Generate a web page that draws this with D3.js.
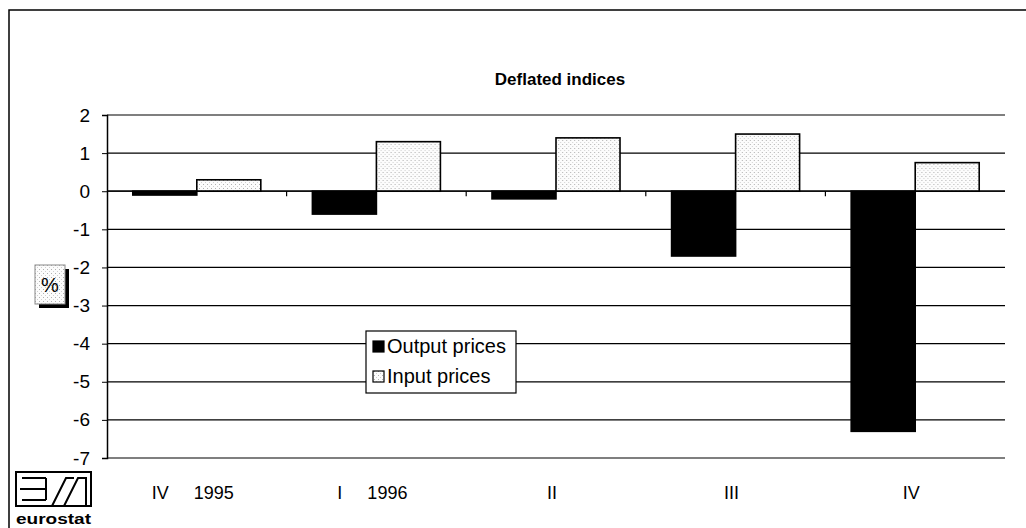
<!DOCTYPE html>
<html>
<head>
<meta charset="utf-8">
<script src="https://cdn.jsdelivr.net/npm/d3@7"></script>
<style>
  html, body { margin: 0; padding: 0; background: #fff; }
  svg { display: block; font-family: "Liberation Sans", Arial, sans-serif; }
</style>
</head>
<body>
<svg id="chart" width="1026" height="528"></svg>
<script>
const categories = ["IV     1995", "I     1996", "II", "III", "IV"];
const seriesNames = ["Output prices", "Input prices"];
const outputPrices = [-0.1, -0.6, -0.2, -1.7, -6.3];
const inputPrices = [0.3, 1.3, 1.4, 1.5, 0.75];
const yTicks = [2, 1, 0, -1, -2, -3, -4, -5, -6, -7];
const titleText = "Deflated indices";

(function () {
const svg = d3.select("#chart");
const defs = svg.append("defs");
const pat = defs.append("pattern").attr("id", "dots").attr("patternUnits", "userSpaceOnUse")
  .attr("width", 4).attr("height", 4);
pat.append("rect").attr("width", 4).attr("height", 4).attr("fill", "#fcfcfc");
pat.append("rect").attr("x", 0).attr("y", 0).attr("width", 1).attr("height", 1).attr("fill", "#b0b0b0");
pat.append("rect").attr("x", 2).attr("y", 2).attr("width", 1).attr("height", 1).attr("fill", "#d0d0d0");

// outer frame (top and left)
svg.append("path").attr("d", "M9,528 L9,10 L1026,10").attr("fill", "none").attr("stroke", "#000").attr("stroke-width", 1.5);

const pLeft = 107, pRight = 1005, pTop = 115, pBottom = 458;
const x0 = d3.scaleBand().domain(categories).range([pLeft, pRight]).padding(0);
const x1 = d3.scaleBand().domain(seriesNames).range([0, x0.bandwidth()]).paddingInner(0).paddingOuter(0.403);
const y = d3.scaleLinear().domain([-7, 2]).range([pBottom, pTop]);

// title
svg.append("text").attr("x", 560).attr("y", 85).attr("text-anchor", "middle")
  .attr("font-size", 17).attr("font-weight", "bold").text(titleText);

// gridlines
svg.append("g").selectAll("line").data(yTicks).join("line")
  .attr("x1", pLeft).attr("x2", pRight).attr("y1", d => y(d)).attr("y2", d => y(d))
  .attr("stroke", "#000").attr("stroke-width", 1.2);

// y axis
const yAxis = svg.append("g").attr("transform", `translate(${pLeft},0)`)
  .call(d3.axisLeft(y).tickValues(yTicks).tickSize(5).tickPadding(12).tickFormat(d => String(d)));
yAxis.select(".domain").attr("stroke-width", 1.5);
yAxis.selectAll("text").attr("font-size", 19).attr("font-family", "Liberation Sans, Arial, sans-serif").attr("fill", "#000");

// bars
const data = categories.map((c, i) => ({ cat: c, vals: [
  { s: seriesNames[0], v: outputPrices[i] },
  { s: seriesNames[1], v: inputPrices[i] }
]}));
const groups = svg.append("g").selectAll("g").data(data).join("g")
  .attr("transform", d => `translate(${x0(d.cat)},0)`);
groups.selectAll("rect").data(d => d.vals).join("rect")
  .attr("x", d => x1(d.s))
  .attr("width", x1.bandwidth())
  .attr("y", d => y(Math.max(0, d.v)))
  .attr("height", d => Math.abs(y(d.v) - y(0)))
  .attr("fill", d => d.s === seriesNames[0] ? "#000" : "url(#dots)")
  .attr("stroke", "#000").attr("stroke-width", 1.6);

// x axis at zero with ticks at category boundaries
const xAxisG = svg.append("g").attr("transform", `translate(0,${y(0)})`);
xAxisG.append("line").attr("x1", pLeft).attr("x2", pRight).attr("stroke", "#000").attr("stroke-width", 1.2);
const boundaries = categories.slice(1).map(c => x0(c));
xAxisG.selectAll("line.tk").data(boundaries).join("line").attr("class", "tk")
  .attr("x1", d => d).attr("x2", d => d).attr("y1", 0).attr("y2", 5)
  .attr("stroke", "#000").attr("stroke-width", 1.2);

// category labels
svg.append("g").selectAll("text").data(categories).join("text")
  .attr("x", d => x0(d) + x0.bandwidth() / 2 - 4).attr("y", 499)
  .attr("text-anchor", "middle").attr("font-size", 18)
  .style("white-space", "pre").text(d => d);

// legend
const lg = svg.append("g").attr("transform", "translate(366,331)");
lg.append("rect").attr("width", 150).attr("height", 62).attr("fill", "#fff").attr("stroke", "#000").attr("stroke-width", 1.2);
seriesNames.forEach((s, i) => {
  const yy = 22 + i * 30;
  lg.append("rect").attr("x", 7).attr("y", yy - 12).attr("width", 11).attr("height", 11)
    .attr("fill", i === 0 ? "#000" : "url(#dots)").attr("stroke", "#000").attr("stroke-width", 1.2);
  lg.append("text").attr("x", 21).attr("y", yy).attr("font-size", 20).text(s);
});

// % box
const pb = svg.append("g").attr("transform", "translate(35,265)");
pb.append("rect").attr("x", 4).attr("y", 4).attr("width", 30).attr("height", 39).attr("fill", "#000");
pb.append("rect").attr("width", 30).attr("height", 39).attr("fill", "url(#dots)").attr("stroke", "#888").attr("stroke-width", 1);
pb.append("text").attr("x", 15).attr("y", 27).attr("text-anchor", "middle").attr("font-size", 20).text("%");

// eurostat logo
const logo = svg.append("g").attr("transform", "translate(16,472)");
logo.append("rect").attr("width", 75).attr("height", 34).attr("fill", "none").attr("stroke", "#000").attr("stroke-width", 2);
logo.append("path").attr("d", "M6,6 L30,6 M4,17 L30,17 M6,28 L30,28 M30,6 L30,28 M36,34 L50,6 L58,6 M48,34 L62,6 L70,6 L70,34")
  .attr("fill", "none").attr("stroke", "#000").attr("stroke-width", 2);
logo.append("text").attr("x", 0).attr("y", 52).attr("font-size", 14).attr("font-weight", "bold")
  .attr("textLength", 75).attr("lengthAdjust", "spacingAndGlyphs").text("eurostat");
})();
</script>
</body>
</html>
